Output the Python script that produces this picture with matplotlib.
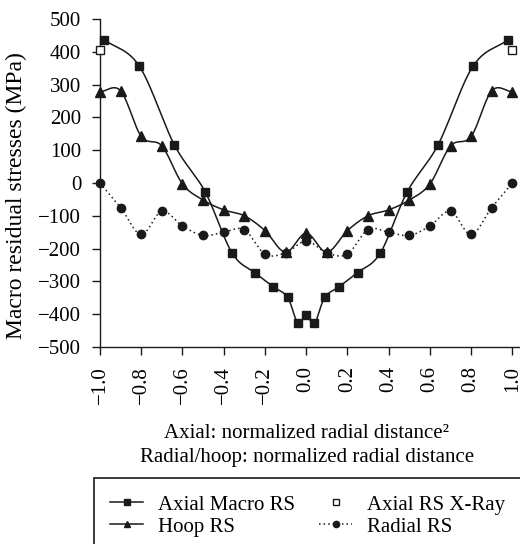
import numpy as np
import matplotlib.pyplot as plt
from matplotlib.lines import Line2D
from matplotlib.patches import Rectangle

plt.rcParams['font.family'] = ['Liberation Serif', 'DejaVu Serif']
plt.rcParams['font.size'] = 15

# axial stresses, plotted against normalized radial distance squared
axial_x = [-0.98, -0.81, -0.64, -0.49, -0.36, -0.25, -0.16, -0.09, -0.04, 0.0,
           0.04, 0.09, 0.16, 0.25, 0.36, 0.49, 0.64, 0.81, 0.98]
axial_rs = [437, 357, 117, -27, -213, -273, -316, -349, -428, -403,
            -428, -349, -316, -273, -213, -27, 117, 357, 437]

# x-ray surface measurement
xray_x = [-1.0, 1.0]
xray_rs = [405, 405]

# hoop and radial stresses, plotted against normalized radial distance
r = [-1.0, -0.9, -0.8, -0.7, -0.6, -0.5, -0.4, -0.3, -0.2, -0.1, 0.0,
     0.1, 0.2, 0.3, 0.4, 0.5, 0.6, 0.7, 0.8, 0.9, 1.0]
hoop_rs = [278, 281, 142, 113, -3, -52, -82, -100, -145, -211, -153,
           -211, -145, -100, -82, -52, -3, 113, 142, 281, 278]
radial_rs = [0, -75, -157, -86, -131, -160, -150, -142, -217, -213, -177,
             -213, -217, -142, -150, -160, -131, -86, -157, -75, 0]

x_ticks = [-1.0, -0.8, -0.6, -0.4, -0.2, 0.0, 0.2, 0.4, 0.6, 0.8, 1.0]
x_ticklabels = ['\u22121.0', '\u22120.8', '\u22120.6', '\u22120.4', '\u22120.2',
                '0.0', '0.2', '0.4', '0.6', '0.8', '1.0']
y_ticks = list(range(-500, 501, 100))


def smooth(x, y, n=24):
    """Catmull-Rom curve through the points."""
    p = np.column_stack([x, y]).astype(float)
    p = np.vstack([2 * p[0] - p[1], p, 2 * p[-1] - p[-2]])
    t = np.linspace(0, 1, n)[:, None]
    out = []
    for i in range(1, len(p) - 2):
        p0, p1, p2, p3 = p[i - 1], p[i], p[i + 1], p[i + 2]
        seg = 0.5 * (2 * p1 + (-p0 + p2) * t
                     + (2 * p0 - 5 * p1 + 4 * p2 - p3) * t ** 2
                     + (-p0 + 3 * p1 - 3 * p2 + p3) * t ** 3)
        out.append(seg if i == 1 else seg[1:])
    out = np.vstack(out)
    return out[:, 0], out[:, 1]


fig = plt.figure(figsize=(5.2, 5.44), dpi=100)
ax = fig.add_axes([100 / 520, 1 - 347 / 544, 420 / 520, 328 / 544])

ink = '#1a1a1a'
lw = 1.1
sx, sy = smooth(axial_x, axial_rs)
ax.plot(sx, sy, color=ink, lw=lw, clip_on=False)
ax.plot(axial_x, axial_rs, ls='none', marker='s', ms=5.5, color=ink, clip_on=False)

sx, sy = smooth(r, hoop_rs)
ax.plot(sx, sy, color=ink, lw=lw, clip_on=False)
ax.plot(r, hoop_rs, ls='none', marker='^', ms=6.5, color=ink, clip_on=False)

sx, sy = smooth(r, radial_rs)
ax.plot(sx, sy, color=ink, lw=lw, ls=(0, (1, 2)), clip_on=False)
ax.plot(r, radial_rs, ls='none', marker='o', ms=6, color=ink, clip_on=False)

ax.plot(xray_x, xray_rs, ls='none', marker='s', ms=5.5, mfc='white',
        mec=ink, mew=1.0, clip_on=False, zorder=5)

ax.set_xlim(-1.0, 1.037)
ax.set_ylim(-500, 500)
ax.set_xticks(x_ticks)
ax.set_xticklabels(x_ticklabels, rotation=90)
ax.set_yticks(y_ticks)
ax.set_yticklabels([str(v).replace('-', '\u2212') for v in y_ticks])
ax.tick_params(direction='out', length=5.5, width=1, labelsize=15, color=ink, pad=8)
for side in ('top', 'right'):
    ax.spines[side].set_visible(False)
for side in ('left', 'bottom'):
    ax.spines[side].set_linewidth(1)
    ax.spines[side].set_color(ink)

fig.text(16 / 520, 1 - 196 / 544, 'Macro residual stresses (MPa)',
         rotation=90, ha='center', va='center', fontsize=17)

fig.text(307 / 520, 1 - 438 / 544, 'Axial: normalized radial distance\u00b2',
         ha='center', va='baseline', fontsize=15)
fig.text(307 / 520, 1 - 462 / 544, 'Radial/hoop: normalized radial distance',
         ha='center', va='baseline', fontsize=15)

# legend, boxed and running off the bottom/right edge
handles = [
    Line2D([], [], color=ink, lw=lw, marker='s', ms=4),
    Line2D([], [], color=ink, lw=lw, marker='^', ms=5),
    Line2D([], [], ls='none', marker='s', ms=4.5, mfc='white', mec=ink),
    Line2D([], [], color=ink, lw=lw, ls=(0, (1, 2)), marker='o', ms=4.5),
]
labels = ['Axial Macro RS', 'Hoop RS', 'Axial RS X-Ray', 'Radial RS']
fig.legend(handles, labels, ncol=2, loc='upper left',
           bbox_to_anchor=(110 / 520, 1 - 495 / 544), frameon=False,
           fontsize=15, handlelength=1.6, handletextpad=0.7,
           columnspacing=1.15, labelspacing=0.12, borderpad=0, borderaxespad=0)
fig.patches.append(Rectangle((94 / 520, -0.05), 0.9, 1 - 478 / 544 + 0.05,
                             transform=fig.transFigure, fill=False,
                             ec=ink, lw=1.2))

fig.savefig('out.png', dpi=100)
